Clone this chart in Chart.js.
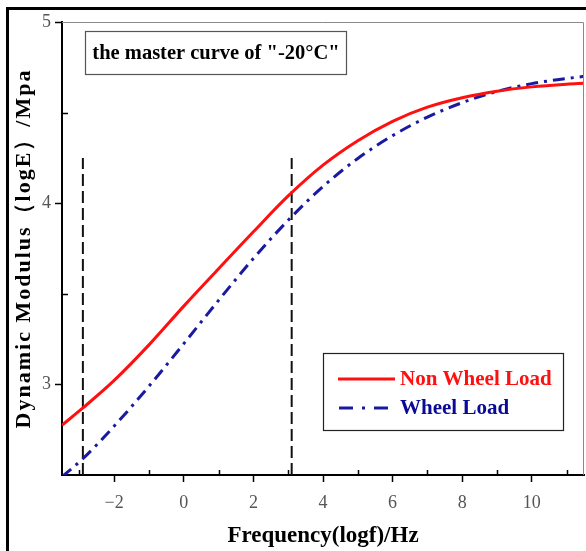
<!DOCTYPE html>
<html>
<head>
<meta charset="utf-8">
<script src="https://cdn.jsdelivr.net/npm/chart.js@4.4.1/dist/chart.umd.min.js"></script>
<style>
  html, body { margin:0; padding:0; background:#fff; overflow:hidden; }
  #wrap { position:relative; width:586px; height:551px; }
  #frame { position:absolute; left:6px; top:7px; width:600px; height:560px;
           border-top:3px solid #000; border-left:3px solid #000; }
  #c { position:absolute; left:0; top:0; }
</style>
</head>
<body>
<div id="wrap">
  <div id="frame"></div>
  <canvas id="c" width="586" height="551"></canvas>
</div>
<script>
// ---- data ----
const nonWheelX = [-3.5, -2.9, -2, -1, 0, 1, 2, 3, 4, 5, 6, 7, 8, 9, 10, 11, 11.5];
const nonWheelY = [2.775, 2.87, 3.022, 3.218, 3.432, 3.638, 3.842, 4.04, 4.21, 4.345, 4.452, 4.53, 4.582, 4.618, 4.642, 4.657, 4.662];
const wheelX = [-3.5, -2.9, -2, -1, 0, 1, 2, 3, 4, 5, 6, 7, 8, 9, 10, 11, 11.5];
const wheelY = [2.49, 2.59, 2.77, 2.99, 3.225, 3.464, 3.695, 3.906, 4.092, 4.247, 4.373, 4.475, 4.555, 4.617, 4.66, 4.688, 4.70];
const markerX = [-2.9, 3.1];
const markerY = [2.5, 4.25];
const xMajorTicks = [-2, 0, 2, 4, 6, 8, 10];
const xMinorTicks = [-3, -1, 1, 3, 5, 7, 9, 11];
const yMajorTicks = [3, 4, 5];
const yMinorTicks = [3.5, 4.5];
const seriesNames = ['Non Wheel Load', 'Wheel Load'];
const titleText = 'the master curve of "-20°C"';
const xTitle = 'Frequency(logf)/Hz';
const yTitle = 'Dynamic Modulus（logE）/Mpa';

const RED = '#ff1010';
const BLUE = '#1a1aa0';
const BLUE_TXT = '#0a0a96';
const SERIF = '"Liberation Serif", "Times New Roman", serif';

const toPts = (xs, ys) => xs.map((x, i) => ({x, y: ys[i]}));

const decor = {
  id: 'decor',
  afterDraw(chart) {
    const {ctx, chartArea: a, scales: {x, y}} = chart;
    ctx.save();
    // top and right frame of plot
    ctx.strokeStyle = '#8a8a8a';
    ctx.lineWidth = 1;
    ctx.beginPath();
    ctx.moveTo(a.left, a.top + 0.5); ctx.lineTo(a.right - 0.5, a.top + 0.5);
    ctx.lineTo(a.right - 0.5, a.bottom);
    ctx.stroke();
    // minor inward ticks
    ctx.strokeStyle = '#000';
    ctx.lineWidth = 1.5;
    ctx.beginPath();
    xMinorTicks.forEach(v => {
      const px = Math.round(x.getPixelForValue(v)) + 0.5;
      ctx.moveTo(px, a.bottom); ctx.lineTo(px, a.bottom - 5);
    });
    yMinorTicks.forEach(v => {
      const py = Math.round(y.getPixelForValue(v)) + 0.5;
      ctx.moveTo(a.left, py); ctx.lineTo(a.left + 6, py);
    });
    ctx.stroke();

    // y axis title (letter-spaced, rotated)
    ctx.save();
    ctx.translate(24, (a.top + a.bottom) / 2);
    ctx.rotate(-Math.PI / 2);
    ctx.font = 'bold 22px ' + SERIF;
    if ('letterSpacing' in ctx) ctx.letterSpacing = '2px';
    ctx.fillStyle = '#000';
    ctx.textAlign = 'center';
    ctx.textBaseline = 'middle';
    ctx.fillText(yTitle, 0, 0);
    ctx.restore();

    // title box
    ctx.fillStyle = '#fff';
    ctx.strokeStyle = '#555';
    ctx.lineWidth = 1.2;
    ctx.fillRect(85, 31, 262, 44);
    ctx.strokeRect(85.5, 31.5, 261, 43);
    ctx.fillStyle = '#000';
    ctx.font = 'bold 20.5px ' + SERIF;
    ctx.textAlign = 'center';
    ctx.textBaseline = 'middle';
    ctx.fillText(titleText, 216, 54);

    // legend box
    ctx.fillStyle = '#fff';
    ctx.fillRect(323, 353, 241, 78);
    ctx.strokeStyle = '#222';
    ctx.lineWidth = 1.2;
    ctx.strokeRect(323.5, 353.5, 240, 77);
    ctx.lineWidth = 3;
    ctx.strokeStyle = RED;
    ctx.beginPath(); ctx.moveTo(338, 379); ctx.lineTo(395, 379); ctx.stroke();
    ctx.strokeStyle = BLUE;
    ctx.setLineDash([14, 9, 3, 9]);
    ctx.beginPath(); ctx.moveTo(339, 408); ctx.lineTo(395, 408); ctx.stroke();
    ctx.setLineDash([]);
    ctx.font = 'bold 21px ' + SERIF;
    ctx.textAlign = 'left';
    ctx.fillStyle = RED;
    ctx.fillText(seriesNames[0], 400, 380);
    ctx.fillStyle = BLUE_TXT;
    ctx.fillText(seriesNames[1], 400, 409);
    ctx.restore();
  }
};

new Chart(document.getElementById('c'), {
  type: 'scatter',
  data: {
    datasets: [
      { label: seriesNames[0], data: toPts(nonWheelX, nonWheelY), showLine: true,
        borderColor: RED, borderWidth: 3, pointRadius: 0, cubicInterpolationMode: 'monotone' },
      { label: seriesNames[1], data: toPts(wheelX, wheelY), showLine: true,
        borderColor: BLUE, borderWidth: 3, borderDash: [12, 6, 3, 6], pointRadius: 0,
        cubicInterpolationMode: 'monotone' },
      { label: 'm1', data: [{x: markerX[0], y: markerY[0]}, {x: markerX[0], y: markerY[1]}], showLine: true,
        borderColor: '#111', borderWidth: 2, borderDash: [12, 5], pointRadius: 0 },
      { label: 'm2', data: [{x: markerX[1], y: markerY[0]}, {x: markerX[1], y: markerY[1]}], showLine: true,
        borderColor: '#111', borderWidth: 2, borderDash: [12, 5], pointRadius: 0 }
    ]
  },
  options: {
    responsive: false,
    animation: false,
    events: [],
    layout: { padding: { top: 22, right: 2, left: 0, bottom: 0 } },
    plugins: { legend: { display: false }, tooltip: { enabled: false } },
    scales: {
      x: {
        type: 'linear', min: -3.5, max: 11.5,
        afterBuildTicks: s => { s.ticks = xMajorTicks.map(v => ({value: v})); },
        afterFit: s => { s.height = 76; },
        grid: { display: true, drawOnChartArea: false, drawTicks: true, tickLength: 7, tickWidth: 1.5, tickColor: '#000' },
        border: { display: true, color: '#000', width: 2 },
        ticks: { font: { family: SERIF, size: 18 }, color: '#555', padding: 10,
                 maxRotation: 0, autoSkip: false,
                 callback: v => (v < 0 ? '−' + Math.abs(v) : String(v)) },
        title: { display: true, text: xTitle, color: '#000',
                 font: { family: SERIF, size: 23, weight: 'bold' }, padding: { top: 0, bottom: 1 } }
      },
      y: {
        type: 'linear', min: 2.5, max: 5,
        afterBuildTicks: s => { s.ticks = yMajorTicks.map(v => ({value: v})); },
        afterFit: s => { s.width = 62; },
        grid: { display: true, drawOnChartArea: false, drawTicks: true, tickLength: 7, tickWidth: 1.5, tickColor: '#000' },
        border: { display: true, color: '#000', width: 2 },
        ticks: { font: { family: SERIF, size: 18 }, color: '#555', padding: 4, autoSkip: false },
        title: { display: false }
      }
    }
  },
  plugins: [decor]
});
</script>
</body>
</html>
